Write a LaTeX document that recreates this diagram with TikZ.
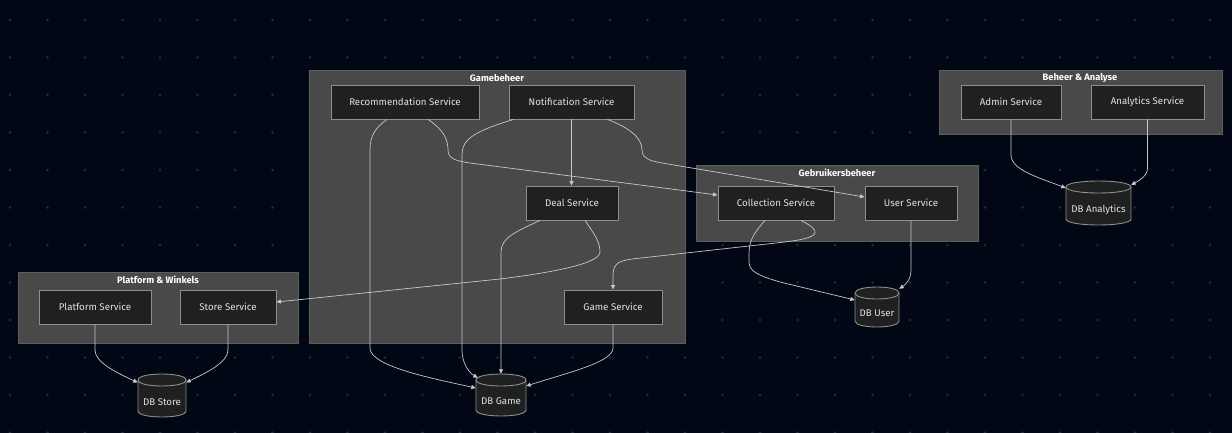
\documentclass[tikz,border=0pt]{standalone}
\usepackage{fontspec}
\setmainfont{Fira Sans}
\usetikzlibrary{arrows.meta}
\definecolor{bgcol}{HTML}{020716}
\definecolor{dotcol}{HTML}{262C3A}
\definecolor{clfill}{HTML}{494949}
\definecolor{cldraw}{HTML}{5E5E5E}
\definecolor{ndfill}{HTML}{1F2020}
\definecolor{nddraw}{HTML}{8E8E8E}
\definecolor{txtcol}{HTML}{E2E2E2}
\definecolor{edgecol}{HTML}{C8C8C8}
\tikzset{
  cluster/.style={fill=clfill, draw=cldraw, line width=0.8pt},
  cltitle/.style={text=white, font=\fontsize{9.3}{11}\selectfont\bfseries},
  svc/.style={fill=ndfill, draw=nddraw, line width=0.9pt, text=txtcol,
    font=\fontsize{9.7}{11}\selectfont, inner sep=0pt, minimum height=34pt},
  dbsty/.style={fill=ndfill, draw=nddraw, line width=0.9pt},
  dbtext/.style={text=txtcol, font=\fontsize{9.7}{11}\selectfont, inner sep=0pt},
  conn/.style={draw=edgecol, line width=0.7pt, -{Triangle[length=4.5pt,width=4pt]}},
}
\newcommand{\dbcyl}[6]{%
  \filldraw[dbsty] ({#2},{#4+6}) -- ({#2},{#5-6}) .. controls ({#2},{#5+2}) and ({#3},{#5+2}) .. ({#3},{#5-6})
     -- ({#3},{#4+6}) .. controls ({#3},{#4-2}) and ({#2},{#4-2}) .. cycle;
  \draw[dbsty, fill=none] ({#2},{#4+6}) .. controls ({#2},{#4+14}) and ({#3},{#4+14}) .. ({#3},{#4+6});
  \node[dbtext, minimum width={(#3-#2)*1pt}, minimum height={(#5-#4)*1pt}] (#1) at ({(#2+#3)/2},{(#4+#5)/2}) {\raisebox{-9.5pt}[0pt][0pt]{#6}};
}
\begin{document}
\begin{tikzpicture}[x=1pt,y=-1pt]
\fill[bgcol] (0,0) rectangle (1232,433);
\useasboundingbox (0,0) rectangle (1232,433);
\foreach \i in {0,...,32}{\foreach \j in {0,...,11}{
  \fill[dotcol] ({10+37.5*\i},{20+37.5*\j}) circle (1.4);
}}
% clusters
\draw[cluster] (309,70) rectangle (685,343);
\node[cltitle] (tGame) at (497,78) {Gamebeheer};
\draw[cluster] (939,70) rectangle (1222,134);
\node[cltitle] (tBeh) at (1080,78) {Beheer \& Analyse};
\draw[cluster] (696,165) rectangle (978,241);
\node[cltitle] (tGeb) at (837,173) {Gebruikersbeheer};
\draw[cluster] (18,272) rectangle (298,343);
\node[cltitle] (tPlat) at (158,280) {Platform \& Winkels};
% service nodes
\node[svc, minimum width=148pt] (rec) at (405,102) {Recommendation Service};
\node[svc, minimum width=125pt] (notif) at (571.5,102) {Notification Service};
\node[svc, minimum width=92pt] (deal) at (572,203) {Deal Service};
\node[svc, minimum width=98pt] (game) at (613,307) {Game Service};
\node[svc, minimum width=116pt] (coll) at (776,203) {Collection Service};
\node[svc, minimum width=92pt] (user) at (911,203) {User Service};
\node[svc, minimum width=100pt] (admin) at (1011,102) {Admin Service};
\node[svc, minimum width=113pt] (analytics) at (1147.5,102) {Analytics Service};
\node[svc, minimum width=112pt] (platform) at (95,307) {Platform Service};
\node[svc, minimum width=96pt] (store) at (228,307) {Store Service};
% databases
\dbcyl{dba}{1066}{1131}{181}{225}{DB Analytics}
\dbcyl{dbuser}{855}{899}{287}{327}{DB User}
\dbcyl{dbstore}{138}{186}{374}{417}{DB Store}
\dbcyl{dbgame}{476}{526}{374}{416}{DB Game}
% connectors
\draw[conn] ([xshift=-18pt]rec.south) .. controls (375,128) and (370,136) .. (370,150) -- (370,348)
   .. controls (370,366) and (430,378) .. ([yshift=7pt]dbgame.west);
\draw[conn] ([xshift=23pt]rec.south) .. controls (444,130) and (448,140) .. (448,150)
   .. controls (448,158) and (455,161) .. (470,163) -- ([yshift=8pt]coll.west);
\draw[conn] ([xshift=-58pt]notif.south) .. controls (472,132) and (462,140) .. (462,155) -- (462,350)
   .. controls (462,362) and (468,372) .. ([xshift=2pt,yshift=-4pt]dbgame.north west);
\draw[conn] (notif.south) -- (notif.south |- deal.north);
\draw[conn] ([xshift=36pt]notif.south) .. controls (630,128) and (642,138) .. (642,150)
   .. controls (642,158) and (650,161) .. (662,163) -- ([yshift=6pt]user.west);
\draw[conn] ([xshift=-32pt]deal.south) .. controls (515,232) and (501,238) .. (501,252) -- (dbgame.north);
\draw[conn] ([xshift=13pt]deal.south) .. controls (595,235) and (600,242) .. (600,252)
   .. controls (600,265) and (540,274) .. (500,279) -- ([yshift=5pt]store.east);
\draw[conn] ([xshift=25pt]coll.south) .. controls (812,226) and (816,230) .. (815,233)
   .. controls (813,238) and (800,240) .. (785,242) -- (632,259)
   .. controls (617,261) and (613,265) .. (613,276) -- (game.north);
\draw[conn] ([xshift=-11pt]coll.south) .. controls (752,235) and (749,242) .. (749,255) -- (749,262)
   .. controls (749,272) and (760,276) .. (780,282) -- ([yshift=7pt]dbuser.west);
\draw[conn] (user.south) -- (911,270) .. controls (911,280) and (905,285) .. ([yshift=-2pt]dbuser.north east);
\draw[conn] (game.south) -- (613,348) .. controls (613,362) and (570,372) .. ([yshift=9pt]dbgame.east);
\draw[conn] (admin.south) -- (1011,155) .. controls (1011,170) and (1040,178) .. ([yshift=15pt]dba.west);
\draw[conn] (analytics.south) -- (1147.5,168) .. controls (1147.5,176) and (1140,180) .. ([yshift=18pt]dba.east);
\draw[conn] (platform.south) -- (95,350) .. controls (95,362) and (115,372) .. ([yshift=13pt]dbstore.west);
\draw[conn] (store.south) -- (228,350) .. controls (228,362) and (208,372) .. ([yshift=13pt]dbstore.east);
\end{tikzpicture}
\end{document}
